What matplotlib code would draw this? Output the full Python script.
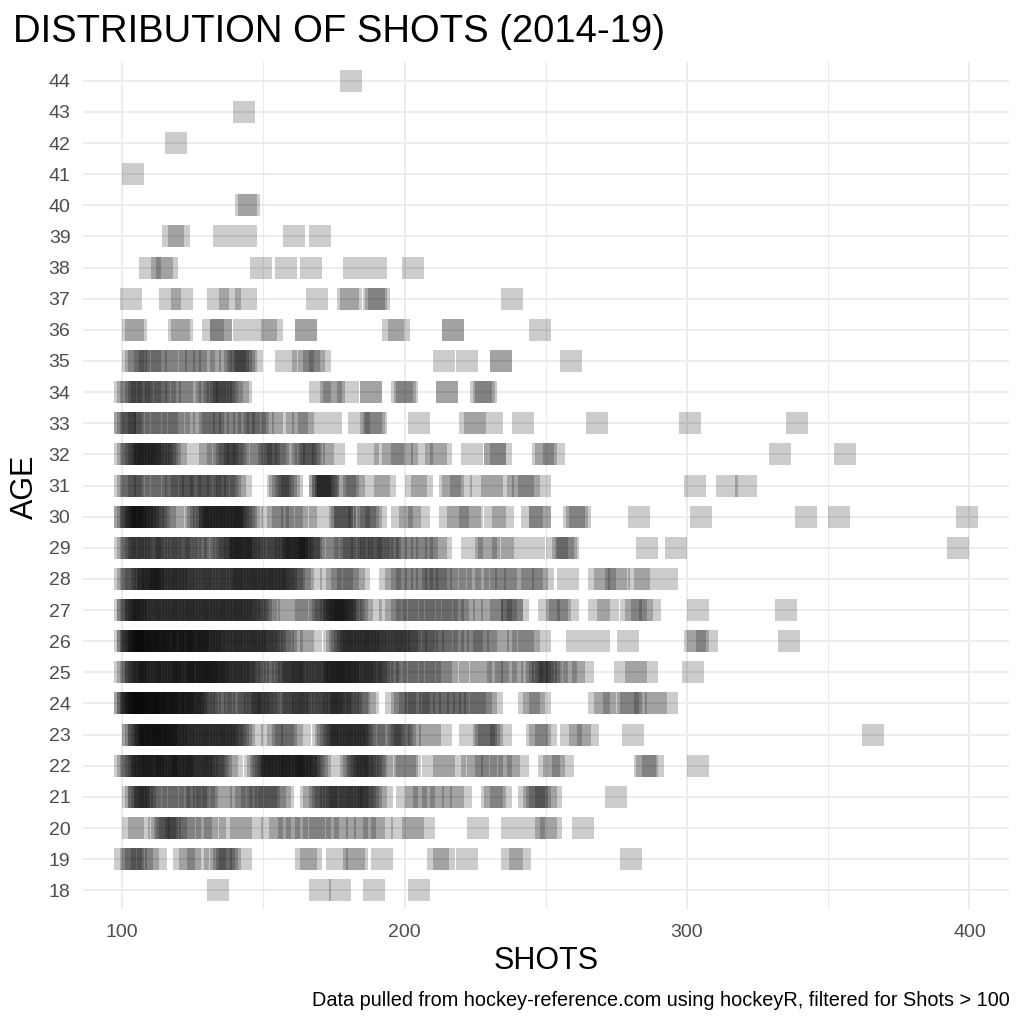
import matplotlib.pyplot as plt

plt.rcParams['font.family'] = ['Liberation Sans', 'DejaVu Sans']

# shots per player-season, grouped by age
ages = list(range(18, 45))

shots_18 = [134, 170, 177, 189, 205]
shots_19 = [101, 103, 104, 105, 107, 109, 112, 122, 124, 127, 133, 135, 136, 137, 138, 142,
            165, 167, 176, 182, 183, 192, 212, 214, 222, 238, 241, 280]
shots_20 = [104, 106, 113, 114, 115, 116, 117, 119, 120, 122, 124, 128, 130, 133, 138, 142, 146,
            153, 156, 159, 162, 165, 168, 170, 173, 176, 179, 183, 186, 189, 192, 199, 203, 207,
            226, 238, 246, 250, 252, 263]
shots_21 = [104, 105, 106, 106, 107, 108, 108, 110, 112, 114, 116, 118, 120, 122, 124, 126, 127,
            129, 130, 132, 135, 140, 142, 144, 146, 148, 149, 151, 152, 154, 156, 157, 167, 168,
            170, 171, 172, 174, 175, 176, 177, 178, 179, 181, 182, 183, 184, 185, 186, 187, 188,
            190, 192, 201, 204, 207, 210, 213, 217, 220, 231, 232, 234, 244, 246, 247, 248, 250,
            252, 275]
shots_22 = [101, 102, 103, 104, 105, 106, 107, 107, 108, 109, 110, 111, 111, 112, 113, 114, 115,
            116, 116, 117, 118, 119, 120, 121, 121, 122, 123, 124, 125, 126, 127, 128, 129, 130,
            131, 132, 133, 134, 135, 137, 139, 147, 148, 149, 150, 151, 152, 153, 153, 154, 155,
            156, 157, 158, 159, 160, 160, 161, 162, 163, 164, 165, 165, 166, 167, 168, 169, 170,
            172, 180, 181, 182, 183, 184, 185, 186, 187, 188, 189, 190, 192, 194, 200, 201, 202,
            210, 214, 218, 224, 226, 229, 231, 234, 237, 240, 251, 253, 256, 285, 286, 288, 304]
shots_23 = [104, 104, 105, 106, 106, 107, 108, 108, 109, 110, 110, 111, 112, 112, 113, 114, 114,
            115, 116, 116, 117, 118, 119, 119, 120, 121, 122, 123, 124, 125, 126, 127, 128, 129,
            130, 131, 132, 133, 134, 135, 136, 137, 138, 139, 140, 141, 142, 143, 146, 153, 155,
            157, 158, 160, 163, 171, 172, 173, 174, 175, 176, 177, 178, 179, 180, 181, 182, 183,
            184, 185, 186, 187, 188, 189, 194, 195, 196, 198, 199, 200, 202, 205, 209, 213, 223,
            228, 229, 230, 231, 234, 247, 248, 250, 259, 262, 265, 281, 366]
shots_24 = [101, 101, 102, 102, 103, 103, 104, 104, 105, 105, 106, 106, 107, 108, 108, 109, 109,
            110, 111, 111, 112, 112, 113, 114, 114, 115, 116, 116, 117, 118, 118, 119, 120, 121,
            121, 122, 123, 124, 125, 125, 126, 127, 128, 129, 130, 131, 133, 135, 136, 138, 140,
            141, 143, 145, 146, 147, 148, 149, 150, 151, 152, 154, 155, 157, 158, 160, 161, 162,
            163, 164, 165, 166, 168, 169, 171, 172, 173, 174, 175, 176, 177, 178, 179, 180, 181,
            183, 184, 186, 187, 197, 199, 200, 202, 204, 205, 207, 209, 210, 212, 214, 216, 218,
            219, 221, 223, 225, 227, 229, 231, 244, 246, 248, 269, 271, 274, 279, 280, 282, 285,
            289, 293]
shots_25 = [101, 102, 103, 104, 105, 105, 106, 107, 108, 109, 110, 110, 111, 112, 113, 114, 115,
            116, 117, 117, 118, 119, 120, 121, 122, 122, 123, 124, 125, 126, 127, 127, 128, 129,
            130, 130, 131, 132, 133, 134, 134, 135, 136, 137, 138, 139, 140, 141, 142, 143, 144,
            145, 146, 147, 148, 150, 152, 154, 155, 157, 158, 159, 160, 161, 162, 163, 164, 165,
            166, 167, 169, 170, 171, 172, 173, 174, 175, 175, 176, 177, 178, 179, 180, 180, 181,
            182, 183, 184, 185, 186, 187, 188, 189, 190, 191, 192, 194, 195, 197, 199, 201, 203,
            205, 207, 209, 211, 213, 215, 219, 223, 227, 231, 233, 236, 238, 242, 245, 247, 248,
            249, 250, 251, 252, 254, 257, 260, 263, 278, 282, 286, 302]
shots_26 = [101, 102, 102, 103, 103, 104, 104, 105, 106, 106, 107, 107, 108, 109, 109, 110, 111,
            111, 112, 113, 113, 114, 115, 115, 116, 117, 118, 118, 119, 120, 121, 121, 122, 123,
            124, 124, 125, 126, 127, 127, 128, 129, 130, 131, 131, 132, 133, 134, 135, 136, 137,
            138, 139, 140, 141, 142, 143, 144, 145, 146, 147, 148, 149, 150, 151, 152, 153, 154,
            156, 157, 158, 160, 164, 167, 175, 176, 177, 178, 179, 180, 181, 182, 183, 184, 185,
            186, 187, 188, 189, 190, 191, 192, 193, 194, 196, 197, 198, 199, 200, 201, 202, 204,
            205, 207, 208, 210, 211, 213, 215, 217, 219, 221, 224, 226, 228, 229, 233, 236, 240,
            242, 244, 248, 261, 269, 279, 303, 304, 307, 336]
shots_27 = [101, 102, 102, 103, 104, 105, 105, 106, 107, 108, 109, 110, 111, 112, 113, 114, 115,
            116, 117, 118, 119, 120, 121, 122, 123, 124, 125, 126, 127, 128, 129, 130, 131, 132,
            133, 134, 135, 136, 137, 138, 139, 140, 141, 142, 143, 144, 145, 146, 147, 148, 149,
            151, 152, 154, 159, 162, 165, 167, 170, 171, 172, 173, 174, 175, 175, 176, 177, 178,
            179, 179, 180, 181, 182, 183, 185, 188, 195, 197, 199, 201, 203, 205, 207, 209, 211,
            213, 215, 217, 219, 221, 224, 228, 231, 234, 236, 238, 238, 240, 251, 254, 255, 258,
            269, 272, 280, 282, 284, 287, 304, 335]
shots_28 = [101, 102, 103, 104, 105, 107, 108, 109, 109, 110, 111, 111, 112, 113, 114, 115, 116,
            117, 118, 119, 120, 121, 122, 123, 124, 125, 126, 128, 129, 130, 131, 132, 133, 134,
            136, 137, 138, 139, 140, 141, 142, 143, 144, 145, 146, 147, 148, 149, 150, 151, 152,
            153, 154, 155, 156, 157, 158, 159, 160, 161, 163, 164, 167, 174, 176, 178, 180, 182,
            184, 195, 197, 199, 201, 204, 206, 208, 210, 211, 213, 215, 218, 220, 223, 226, 229,
            232, 234, 236, 239, 242, 245, 247, 249, 258, 269, 271, 275, 276, 283, 285, 293]
shots_29 = [101, 102, 103, 104, 105, 106, 107, 109, 110, 111, 112, 113, 115, 116, 117, 119, 120,
            121, 123, 124, 126, 127, 129, 131, 133, 135, 136, 137, 138, 139, 140, 141, 142, 142,
            143, 144, 145, 146, 147, 148, 149, 151, 152, 154, 155, 156, 157, 158, 159, 160, 161,
            162, 162, 163, 164, 165, 166, 166, 167, 168, 170, 173, 176, 178, 179, 181, 182, 184,
            185, 187, 188, 189, 191, 192, 194, 195, 197, 199, 201, 204, 206, 208, 211, 213, 224,
            229, 230, 235, 238, 246, 254, 256, 257, 258, 286, 296, 396]
shots_30 = [101, 101, 102, 103, 103, 104, 105, 105, 106, 107, 107, 108, 109, 110, 111, 112, 113,
            114, 115, 118, 122, 126, 127, 128, 129, 130, 131, 131, 132, 133, 134, 135, 136, 137,
            138, 139, 139, 140, 141, 142, 143, 144, 145, 146, 153, 155, 157, 160, 162, 165, 170,
            177, 178, 178, 179, 179, 184, 186, 187, 188, 190, 199, 202, 205, 216, 219, 223, 224,
            232, 235, 245, 248, 248, 260, 261, 262, 283, 305, 342, 354, 399]
shots_31 = [101, 102, 103, 104, 106, 108, 110, 112, 114, 116, 118, 119, 121, 122, 124, 125, 127,
            128, 130, 131, 133, 134, 136, 137, 138, 140, 142, 155, 156, 157, 158, 159, 160, 170,
            170, 171, 171, 172, 172, 173, 173, 179, 180, 182, 183, 191, 193, 204, 206, 216, 217,
            220, 227, 231, 235, 240, 242, 244, 248, 303, 314, 321]
shots_32 = [101, 102, 103, 104, 105, 106, 107, 108, 108, 109, 110, 111, 112, 113, 114, 115, 116,
            117, 119, 120, 128, 131, 134, 136, 137, 138, 139, 140, 141, 143, 146, 149, 151, 152,
            153, 154, 155, 158, 161, 164, 165, 166, 167, 168, 171, 175, 187, 193, 196, 199, 201,
            206, 211, 213, 224, 232, 232, 234, 249, 250, 253, 333, 356]
shots_33 = [101, 101, 102, 103, 104, 106, 108, 110, 112, 114, 116, 118, 120, 122, 126, 129, 131,
            132, 134, 136, 138, 141, 143, 145, 147, 148, 150, 153, 157, 162, 164, 166, 174, 184,
            188, 189, 190, 205, 223, 225, 231, 242, 268, 301, 339]
shots_34 = [101, 102, 103, 105, 106, 107, 109, 110, 112, 113, 115, 117, 119, 121, 124, 127, 130,
            131, 133, 134, 135, 136, 137, 139, 141, 142, 170, 174, 175, 180, 188, 188, 199, 200,
            201, 215, 215, 227, 228, 229]
shots_35 = [104, 105, 106, 108, 110, 112, 114, 116, 119, 122, 124, 126, 129, 131, 135, 138, 140,
            141, 142, 143, 144, 146, 158, 164, 166, 168, 170, 214, 222, 234, 234, 259]
shots_36 = [104, 105, 120, 121, 132, 135, 135, 143, 151, 153, 165, 165, 196, 198, 217, 217, 248]
shots_37 = [103, 117, 121, 134, 138, 144, 169, 180, 181, 189, 190, 191, 238]
shots_38 = [110, 114, 116, 149, 158, 167, 182, 190, 203]
shots_39 = [118, 120, 136, 144, 161, 170]
shots_40 = [144, 145]
shots_41 = [104]
shots_42 = [119]
shots_43 = [143]
shots_44 = [181]

shots_by_age = [shots_18, shots_19, shots_20, shots_21, shots_22, shots_23, shots_24, shots_25,
                shots_26, shots_27, shots_28, shots_29, shots_30, shots_31, shots_32, shots_33,
                shots_34, shots_35, shots_36, shots_37, shots_38, shots_39, shots_40, shots_41,
                shots_42, shots_43, shots_44]

fig = plt.figure(figsize=(10.24, 10.24), dpi=100)
ax = fig.add_axes([0.081, 0.1123, 0.904, 0.8271])

for age, vals in zip(ages, shots_by_age):
    ax.scatter(vals, [age] * len(vals), marker='s', s=251, color='black',
               alpha=0.2, linewidths=0, zorder=3)

ax.set_xlim(86.1, 413.9)
ax.set_ylim(17.4, 44.6)
ax.set_xticks([100, 200, 300, 400])
ax.set_xticks([150, 250, 350], minor=True)
ax.set_yticks(ages)
ax.grid(which='major', color='#EBEBEB', linewidth=1.3, zorder=0)
ax.grid(which='minor', axis='x', color='#EBEBEB', linewidth=0.8, zorder=0)
ax.set_axisbelow(True)
for sp in ax.spines.values():
    sp.set_visible(False)
ax.tick_params(which='both', length=0, labelsize=14, labelcolor='#4D4D4D')
ax.tick_params(axis='y', pad=9)
ax.tick_params(axis='x', pad=11)

fig.text(546 / 1024, 1 - 961 / 1024, 'SHOTS', ha='center', va='center', fontsize=22)
fig.text(25 / 1024, 1 - 487 / 1024, 'AGE', ha='center', va='center', fontsize=22, rotation=90)
fig.text(13 / 1024, 1 - 42 / 1024, 'DISTRIBUTION OF SHOTS (2014-19)', ha='left',
         va='baseline', fontsize=27.5)
fig.text(1010 / 1024, 1 - 1006 / 1024,
         'Data pulled from hockey-reference.com using hockeyR, filtered for Shots > 100',
         ha='right', va='baseline', fontsize=14.3)

fig.savefig('out.png', dpi=100)
